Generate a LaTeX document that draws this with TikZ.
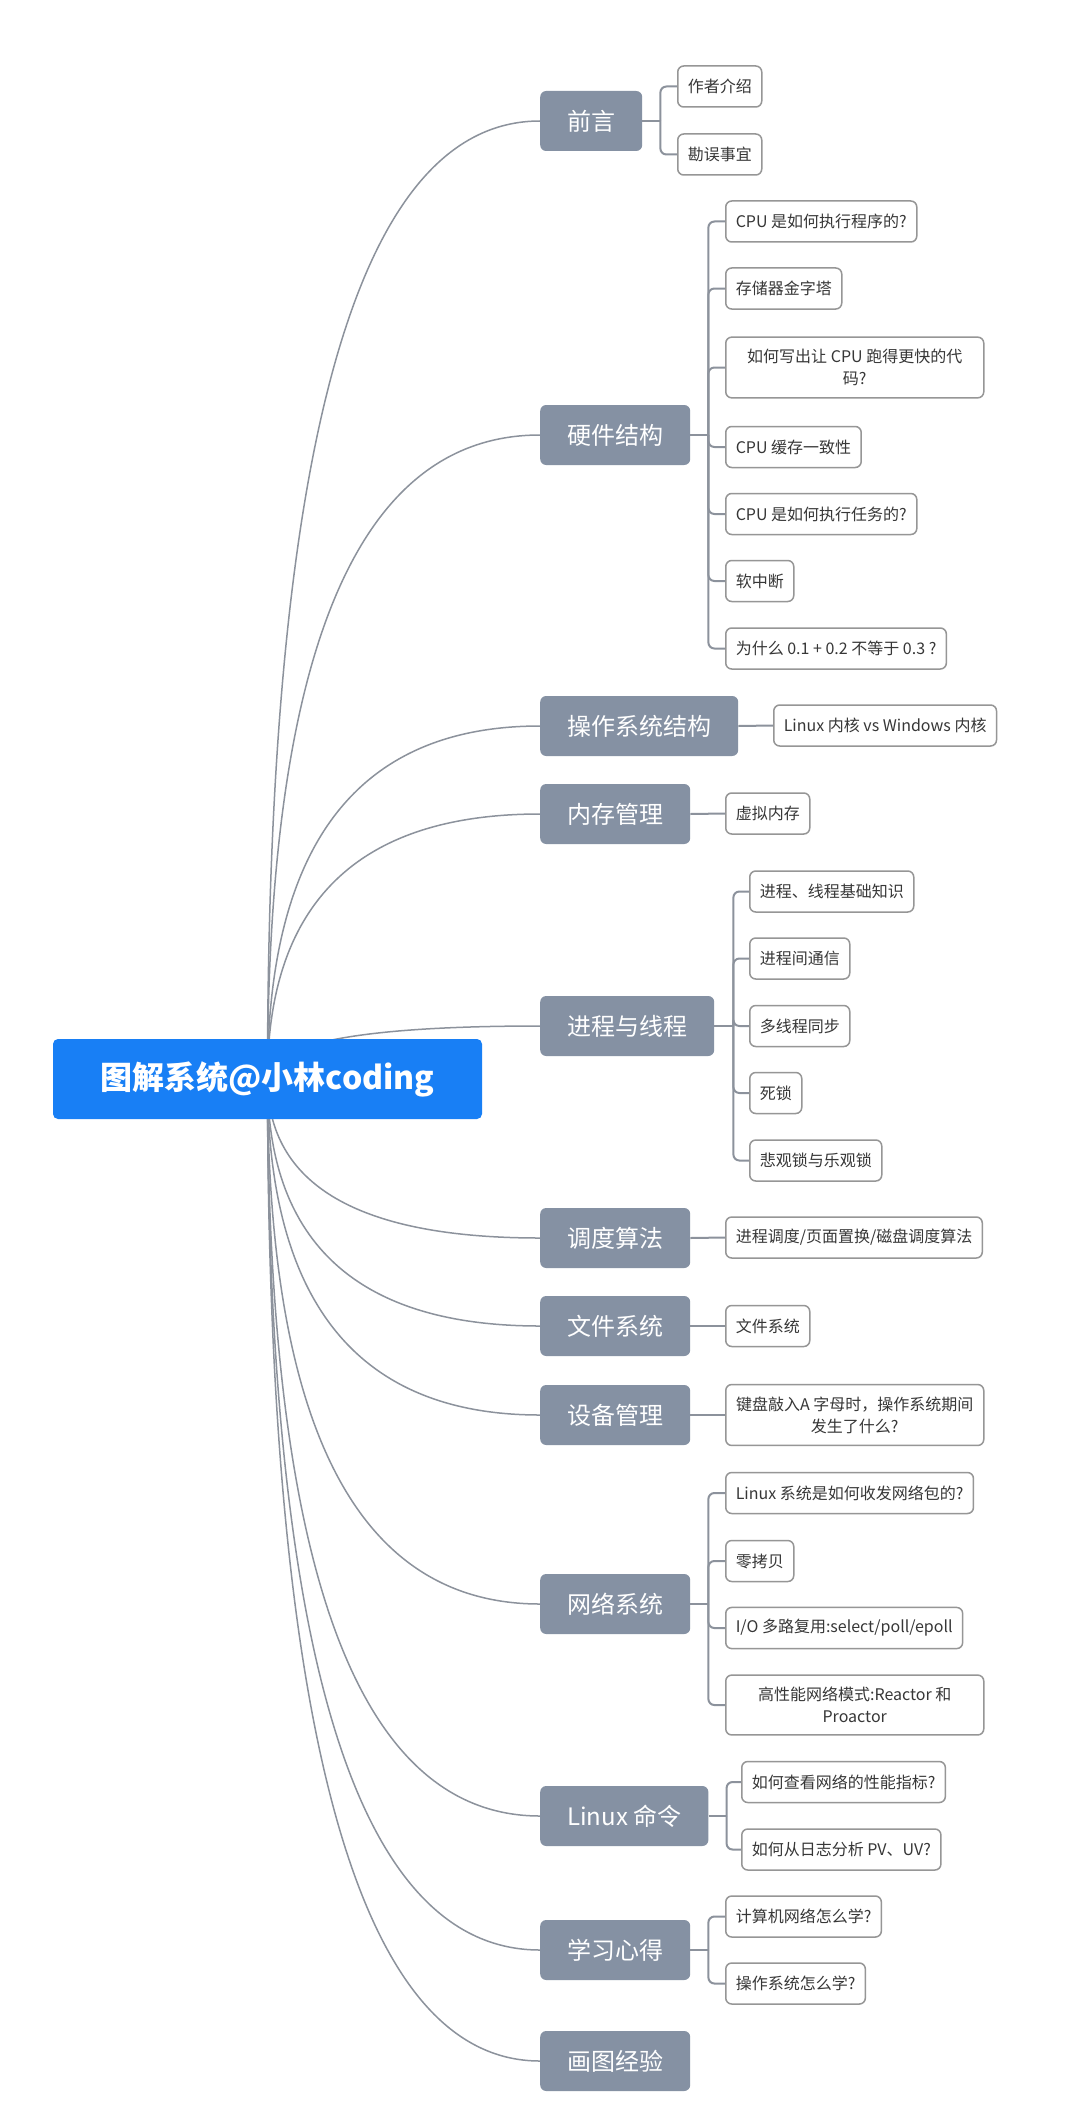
\documentclass[tikz,border=0pt]{standalone}
\usepackage{fontspec}
\setmainfont{Noto Sans CJK SC}
\usetikzlibrary{calc,backgrounds}
\definecolor{RootBlue}{RGB}{24,127,245}
\definecolor{TopicGray}{RGB}{133,145,163}
\definecolor{LinkGray}{RGB}{140,146,156}
\definecolor{LeafEdge}{RGB}{150,150,150}
\definecolor{LeafText}{RGB}{55,55,55}

\begin{document}
\begin{tikzpicture}[x=1pt, y=-1pt,
        root/.style={fill=RootBlue, text=white, rounded corners=5pt,
                    minimum width=429pt, minimum height=80pt, font=\fontsize{32}{38}\selectfont\bfseries},
        topic/.style={fill=TopicGray, text=white, rounded corners=6pt, anchor=west,
                    minimum height=60pt, inner xsep=27pt, font=\fontsize{24}{28}\selectfont},
        leaf/.style={draw=LeafEdge, line width=1.5pt, text=LeafText, rounded corners=6pt, anchor=west,
                    minimum height=41pt, inner xsep=10pt, inner ysep=12pt, align=center, font=\fontsize{16}{22}\selectfont},
        wideleaf/.style={leaf, minimum width=258pt},
        trunk/.style={draw=LinkGray, line width=1.5pt},
        branch/.style={draw=LinkGray, line width=2pt, rounded corners=6pt}
]
    \useasboundingbox (0,0) rectangle (1080,2127);
    \node[root] (root) at (267.5,1079) {图解系统@小林coding};

    \node[topic] (qy) at (540,121) {前言};
    \node[topic] (hw) at (540,435) {硬件结构};
    \node[topic] (os) at (540,726) {操作系统结构};
    \node[topic] (mem) at (540,814) {内存管理};
    \node[topic] (proc) at (540,1026) {进程与线程};
    \node[topic] (sched) at (540,1238) {调度算法};
    \node[topic] (fs) at (540,1326) {文件系统};
    \node[topic] (dev) at (540,1415) {设备管理};
    \node[topic] (net) at (540,1604) {网络系统};
    \node[topic] (cmd) at (540,1816) {Linux 命令};
    \node[topic] (learn) at (540,1950) {学习心得};
    \node[topic] (exp) at (540,2061) {画图经验};

    \node[leaf] (qy1) at (677,86.5) {作者介绍};
    \node[leaf] (qy2) at (677,154.5) {勘误事宜};

    \node[leaf] (hw1) at (725,221.5) {CPU 是如何执行程序的?};
    \node[leaf] (hw2) at (725,288.5) {存储器金字塔};
    \node[wideleaf] (hw3) at (725,367.5) {如何写出让 CPU 跑得更快的代\\码?};
    \node[leaf] (hw4) at (725,447) {CPU 缓存一致性};
    \node[leaf] (hw5) at (725,514) {CPU 是如何执行任务的?};
    \node[leaf] (hw6) at (725,581) {软中断};
    \node[leaf] (hw7) at (725,648.5) {为什么 0.1 + 0.2 不等于 0.3 ?};

    \node[leaf] (os1) at (773,725.5) {Linux 内核 vs Windows 内核};
    \node[leaf] (mem1) at (725,813.5) {虚拟内存};

    \node[leaf] (proc1) at (749,891.5) {进程、线程基础知识};
    \node[leaf] (proc2) at (749,958.5) {进程间通信};
    \node[leaf] (proc3) at (749,1026) {多线程同步};
    \node[leaf] (proc4) at (749,1093) {死锁};
    \node[leaf] (proc5) at (749,1160.5) {悲观锁与乐观锁};

    \node[leaf] (sched1) at (725,1237.5) {进程调度/页面置换/磁盘调度算法};
    \node[leaf] (fs1) at (725,1326) {文件系统};
    \node[wideleaf] (dev1) at (725,1415) {键盘敲入A 字母时，操作系统期间\\发生了什么?};

    \node[leaf] (net1) at (725,1493) {Linux 系统是如何收发网络包的?};
    \node[leaf] (net2) at (725,1561) {零拷贝};
    \node[leaf] (net3) at (725,1628) {I/O 多路复用:select/poll/epoll};
    \node[wideleaf] (net4) at (725,1705) {高性能网络模式:Reactor 和\\Proactor};

    \node[leaf] (cmd1) at (741,1782) {如何查看网络的性能指标?};
    \node[leaf] (cmd2) at (741,1849.5) {如何从日志分析 PV、UV?};

    \node[leaf] (learn1) at (725,1916.5) {计算机网络怎么学?};
    \node[leaf] (learn2) at (725,1983.5) {操作系统怎么学?};

    \begin{scope}[on background layer]
        \fill[white] (0,0) rectangle (1080,2127);
        \foreach \t in {qy,hw,os,mem,proc,sched,fs,dev,net,cmd,learn,exp}
            \draw[trunk] (root.center) .. controls ($(root.center)!2/3!(root.center |- \t.west)$)
                and ($(\t.west)!2/3!(root.center |- \t.west)$) .. (\t.west);
    \end{scope}

    \draw[branch] (qy.east) -- ++(18,0) coordinate (qyb);
    \foreach \c in {qy1,qy2} \draw[branch] (qyb) |- (\c.west);
    \draw[branch] (hw.east) -- ++(18,0) coordinate (hwb);
    \foreach \c in {hw1,hw2,hw3,hw4,hw5,hw6,hw7} \draw[branch] (hwb) |- (\c.west);
    \draw[branch] (os.east) -- (os1.west);
    \draw[branch] (mem.east) -- (mem1.west);
    \draw[branch] (proc.east) -- ++(19,0) coordinate (procb);
    \foreach \c in {proc1,proc2,proc3,proc4,proc5} \draw[branch] (procb) |- (\c.west);
    \draw[branch] (sched.east) -- (sched1.west);
    \draw[branch] (fs.east) -- (fs1.west);
    \draw[branch] (dev.east) -- (dev1.west);
    \draw[branch] (net.east) -- ++(18,0) coordinate (netb);
    \foreach \c in {net1,net2,net3,net4} \draw[branch] (netb) |- (\c.west);
    \draw[branch] (cmd.east) -- ++(18,0) coordinate (cmdb);
    \foreach \c in {cmd1,cmd2} \draw[branch] (cmdb) |- (\c.west);
    \draw[branch] (learn.east) -- ++(18,0) coordinate (learnb);
    \foreach \c in {learn1,learn2} \draw[branch] (learnb) |- (\c.west);
\end{tikzpicture}
\end{document}
